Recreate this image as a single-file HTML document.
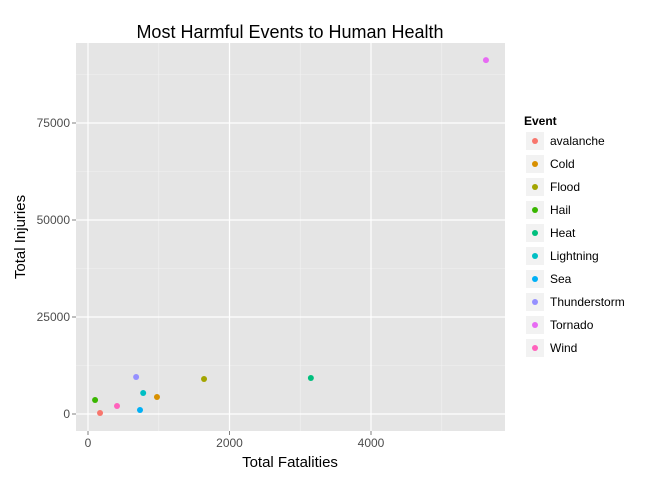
<!DOCTYPE html>
<html><head><meta charset="utf-8"><style>
body{margin:0;background:#fff;font-family:"Liberation Sans",sans-serif}
svg text{font-family:"Liberation Sans",sans-serif}
</style></head><body>
<svg id="chart" width="672" height="480" xmlns="http://www.w3.org/2000/svg">
<rect width="672" height="480" fill="#fff"/>
<text x="290" y="38" text-anchor="middle" font-size="18">Most Harmful Events to Human Health</text>
<rect x="76" y="43" width="429" height="388" fill="#E5E5E5"/>
<g id="grid"></g><g id="ticks"></g><g id="points"></g>
<text x="290" y="467" text-anchor="middle" font-size="15">Total Fatalities</text>
<text transform="translate(25,237) rotate(-90)" text-anchor="middle" font-size="15">Total Injuries</text>
<text x="524" y="125" font-size="12" font-weight="bold">Event</text>
<g id="legend"></g>
</svg>
<script>
const events=["avalanche","Cold","Flood","Hail","Heat","Lightning","Sea","Thunderstorm","Tornado","Wind"];
const fatalities=[170,975,1640,100,3150,780,735,680,5625,410];
const injuries=[260,4380,9020,3600,9280,5400,1030,9540,91200,2060];
const colors=["#F8766D","#D89000","#A3A500","#39B600","#00BF7D","#00BFC4","#00B0F6","#9590FF","#E76BF3","#FF62BC"];
const xTicks=[0,2000,4000];
const yTicks=[0,25000,50000,75000];
const NS="http://www.w3.org/2000/svg";
const X=v=>88+v*0.07075;
const Y=v=>414-v*97/25000;
function mk(p,t,a){const e=document.createElementNS(NS,t);for(const k in a)e.setAttribute(k,a[k]);p.appendChild(e);return e;}
const grid=document.getElementById('grid'),ticks=document.getElementById('ticks');
[1000,3000,5000].forEach(v=>{const l=mk(grid,'line',{x1:X(v),x2:X(v),y1:43,y2:431,stroke:'#F2F2F2','stroke-width':0.6});

});
[12500,37500,62500,87500].forEach(v=>{const l=mk(grid,'line',{x1:76,x2:505,y1:Y(v),y2:Y(v),stroke:'#F2F2F2','stroke-width':0.6});

});
xTicks.forEach(v=>{const l=mk(grid,'line',{x1:X(v),x2:X(v),y1:43,y2:431,stroke:'#fff','stroke-width':1.2});


mk(ticks,'line',{x1:X(v),x2:X(v),y1:431,y2:435,stroke:'#7f7f7f'});
const t=mk(ticks,'text',{x:X(v),y:447,'text-anchor':'middle','font-size':12,fill:'#4d4d4d'});t.textContent=v;

});
yTicks.forEach(v=>{const l=mk(grid,'line',{x1:76,x2:505,y1:Y(v),y2:Y(v),stroke:'#fff','stroke-width':1.2});


mk(ticks,'line',{x1:72,x2:76,y1:Y(v),y2:Y(v),stroke:'#7f7f7f'});
const t=mk(ticks,'text',{x:70,y:Y(v)+4,'text-anchor':'end','font-size':12,fill:'#4d4d4d'});t.textContent=v;

});
const pts=document.getElementById('points'),leg=document.getElementById('legend');
events.forEach((e,i)=>{const c=mk(pts,'circle',{cx:X(fatalities[i]),cy:Y(injuries[i]),r:3,fill:colors[i]});


const y=141+i*23;
const k=mk(leg,'rect',{x:526,y:y-9,width:18,height:18,fill:'#F2F2F2'});


mk(leg,'circle',{cx:535,cy:y,r:3,fill:colors[i]});
const t=mk(leg,'text',{x:550,y:y+4,'font-size':12});t.textContent=e;

});
</script>
</body></html>
